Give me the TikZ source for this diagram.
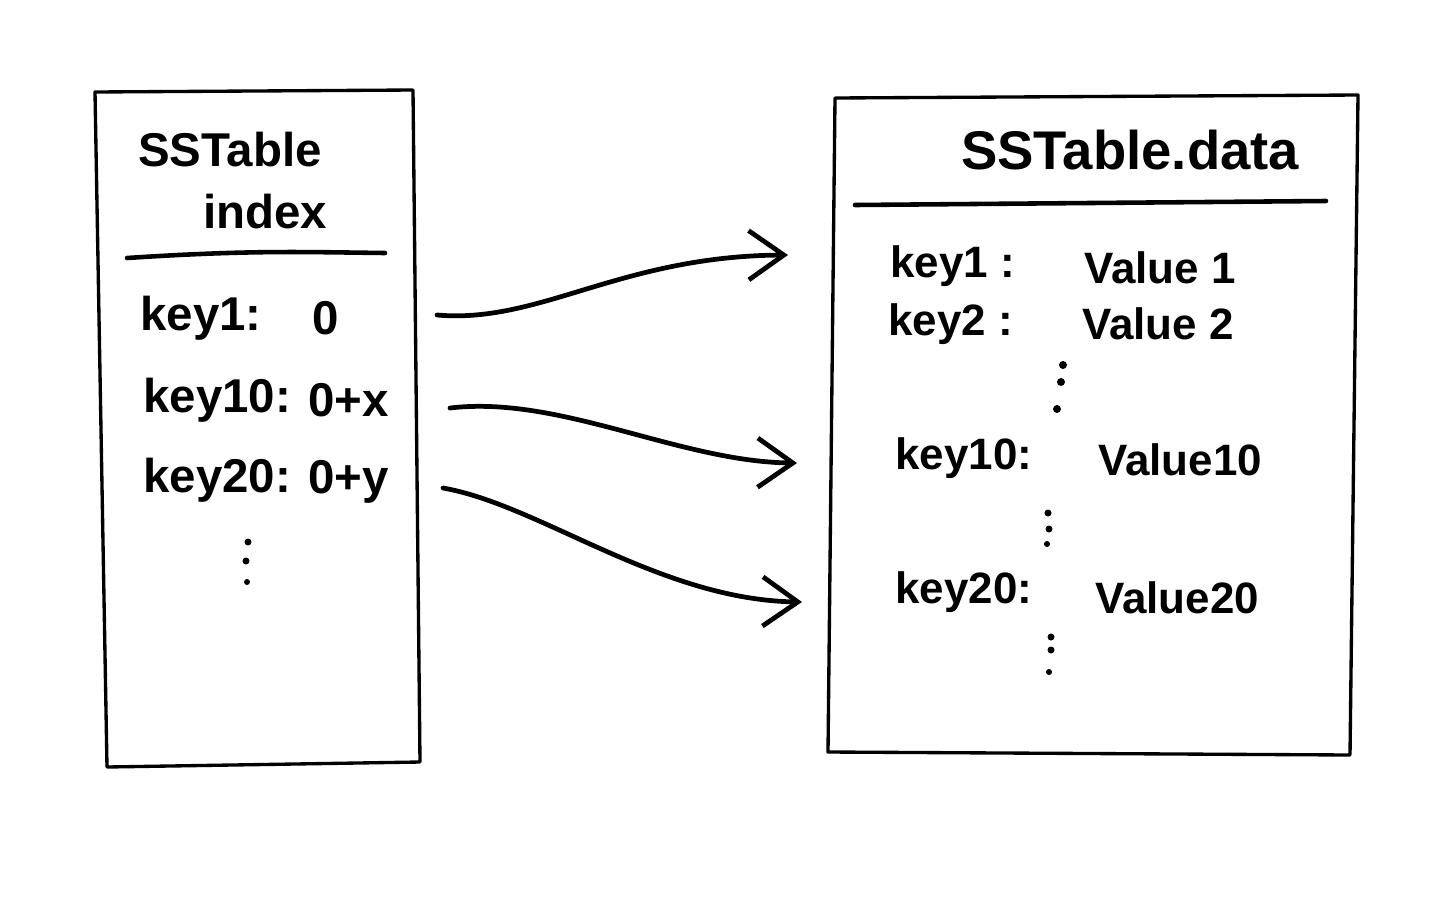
\documentclass[tikz,border=0pt]{standalone}
\usepackage{fontspec}
\setmainfont{Liberation Sans}
\usetikzlibrary{arrows.meta}
\begin{document}
\begin{tikzpicture}[x=0.02cm,y=-0.02cm,
  boxline/.style={line width=1.9pt, line join=round},
  rule/.style={line width=2.6pt, line cap=round},
  conn/.style={line width=2.7pt, line cap=round, -{Straight Barb[length=20pt,width=28pt,line width=2.7pt]}},
  ttl/.style={font=\fontsize{27}{30}\selectfont\bfseries, inner sep=0pt},
  bigttl/.style={font=\fontsize{31}{34}\selectfont\bfseries, inner sep=0pt},
  lkey/.style={font=\fontsize{27}{30}\selectfont\bfseries, inner sep=0pt, anchor=west},
  rkey/.style={font=\fontsize{25}{28}\selectfont\bfseries, inner sep=0pt, anchor=west},
  dotc/.style={fill=black, draw=none}]
\useasboundingbox (0,0) rectangle (1440,900);
% left box
\draw[boxline] (95,92) -- (413,90) -- (420,762) -- (107,767) -- cycle;
\draw[rule] (127,258) .. controls (250,250) and (300,252) .. (385,253);
\node[ttl] (lt1) at (230,150) {SSTable};
\node[ttl] (lt2) at (265,212) {index};
\node[lkey] (lk1) at (140,318) {key1:};
\node[lkey] (lv1) at (312,318) {0};
\node[lkey] (lk2) at (143,400) {key10:};
\node[lkey] (lv2) at (308,400) {0+x};
\node[lkey] (lk3) at (143,480) {key20:};
\node[lkey] (lv3) at (308,482) {0+y};
\fill[dotc] (248,542) circle (3.5);
\fill[dotc] (246,561) circle (3.5);
\fill[dotc] (247,582) circle (3);
% right box
\draw[boxline] (835,98) -- (1358,95) -- (1350,755) -- (828,752) -- cycle;
\draw[rule] (855,205) -- (1326,201);
\node[bigttl] (rt) at (1130,150) {SSTable.data};
\node[rkey] (rk1) at (890,266) {key1 :};
\node[rkey] (rv1) at (1084,268) {Value 1};
\node[rkey] (rk2) at (888,324) {key2 :};
\node[rkey] (rv2) at (1082,324) {Value 2};
\fill[dotc] (1063,365) circle (4);
\fill[dotc] (1061,382) circle (4);
\fill[dotc] (1057,409) circle (4);
\node[rkey] (rk3) at (895,458) {key10:};
\node[rkey] (rv3) at (1098,460) {Value10};
\fill[dotc] (1048,513) circle (3.5);
\fill[dotc] (1049,529) circle (3.5);
\fill[dotc] (1047,544) circle (3);
\node[rkey] (rk4) at (895,592) {key20:};
\node[rkey] (rv4) at (1095,598) {Value20};
\fill[dotc] (1051,637) circle (3.5);
\fill[dotc] (1051,650) circle (3.5);
\fill[dotc] (1049,672) circle (3);
% connectors
\coordinate (s1) at (437,315);
\coordinate (e1) at (788,255);
\coordinate (s2) at (450,408);
\coordinate (e2) at (797,463);
\coordinate (s3) at (443,488);
\coordinate (e3) at (802,602);
\draw[conn] (s1) .. controls (540,324) and (620,256) .. (e1);
\draw[conn] (s2) .. controls (560,395) and (680,462) .. (e2);
\draw[conn] (s3) .. controls (540,505) and (660,600) .. (e3);
\end{tikzpicture}
\end{document}
